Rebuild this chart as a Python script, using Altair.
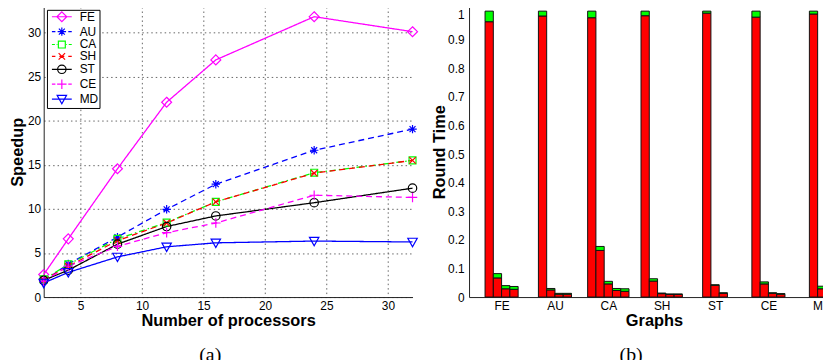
import json
import altair as alt
import pandas as pd

# ---------------- Left panel: speedup vs number of processors ----------------
procs = [2, 4, 8, 12, 16, 24, 32]
graphs = ["FE", "AU", "CA", "SH", "ST", "CE", "MD"]

speedup_fe = [2.55, 6.6, 14.55, 22.1, 26.9, 31.8, 30.1]
speedup_au = [1.8, 3.75, 6.8, 9.95, 12.8, 16.65, 19.05]
speedup_ca = [2.0, 3.7, 6.6, 8.45, 10.8, 14.1, 15.5]
speedup_sh = [1.9, 3.5, 6.4, 8.4, 10.8, 14.05, 15.5]
speedup_st = [1.9, 3.05, 6.0, 8.0, 9.2, 10.7, 12.35]
speedup_ce = [1.8, 3.5, 5.75, 7.3, 8.4, 11.55, 11.3]
speedup_md = [1.6, 2.8, 4.55, 5.7, 6.15, 6.35, 6.25]
speedups = [speedup_fe, speedup_au, speedup_ca, speedup_sh, speedup_st, speedup_ce, speedup_md]

x_ticks_left = [5, 10, 15, 20, 25, 30]
y_ticks_left = [0, 5, 10, 15, 20, 25, 30]

# ---------------- Right panel: round time per graph ----------------
# red = computation part, total = top of green part
round_red = [
    [0.963, 0.067, 0.029, 0.027],
    [0.983, 0.025, 0.010, 0.010],
    [0.977, 0.163, 0.046, 0.023, 0.020],
    [0.984, 0.056, 0.012, 0.009, 0.009],
    [0.993, 0.041, 0.013],
    [0.979, 0.046, 0.013, 0.010],
    [0.990, 0.029, 0.014],
]
round_total = [
    [1.0, 0.082, 0.040, 0.037],
    [1.0, 0.030, 0.013, 0.013],
    [1.0, 0.177, 0.055, 0.030, 0.029],
    [1.0, 0.064, 0.014, 0.011, 0.011],
    [1.0, 0.043, 0.015],
    [1.0, 0.053, 0.015, 0.012],
    [1.0, 0.038, 0.016],
]
y_ticks_right = [0, 0.1, 0.2, 0.3, 0.4, 0.5, 0.6, 0.7, 0.8, 0.9, 1]

# ---------------- styles ----------------
colors = ["#ff00ff", "#0000ff", "#00ff00", "#ff0000", "#000000", "#ff00ff", "#0000ff"]
dashes = [[1, 0], [6, 4], [6, 3, 1.5, 3], [6, 4], [1, 0], [6, 4], [1, 0]]
marker_paths = [
    "M0,-1L1,0L0,1L-1,0Z",
    "M-0.85,0L0.85,0M0,-0.85L0,0.85M-0.6,-0.6L0.6,0.6M-0.6,0.6L0.6,-0.6",
    "M-0.7,-0.7L0.7,-0.7L0.7,0.7L-0.7,0.7Z",
    "M-0.65,-0.65L0.65,0.65M-0.65,0.65L0.65,-0.65",
    "M0.85,0A0.85,0.85,0,1,1,-0.85,0A0.85,0.85,0,1,1,0.85,0Z",
    "M-0.95,0L0.95,0M0,-0.95L0,0.95",
    "M-0.95,-0.75L0.95,-0.75L0,0.95Z",
]
solid_seg = "M-2,0L2,0"
dash_seg = "M-2,0L-1.3,0M-0.5,0L0.5,0M1.3,0L2,0"
dashdot_seg = "M-2,0L-1.4,0M-1.05,0L-0.9,0M0.9,0L1.05,0M1.4,0L2,0"
legend_segs = [solid_seg, dash_seg, dashdot_seg, dash_seg, solid_seg, dash_seg, solid_seg]
legend_paths = [s + m for s, m in zip(legend_segs, marker_paths)]

FONT = "Liberation Sans"

rows = []
for name, vals in zip(graphs, speedups):
    for p, v in zip(procs, vals):
        rows.append({"series": name, "lg": name, "procs": p, "speedup": v})
df_left = pd.DataFrame(rows)

x_left = alt.X(
    "procs:Q",
    scale=alt.Scale(domain=[2, 32], nice=False, zero=False),
    axis=alt.Axis(values=x_ticks_left, title="Number of processors", grid=True,
                  labelPadding=4, titlePadding=1),
)
y_left = alt.Y(
    "speedup:Q",
    scale=alt.Scale(domain=[0, 32.95], nice=False),
    axis=alt.Axis(values=y_ticks_left, title="Speedup", grid=True,
                  labelPadding=3, titlePadding=2),
)

base = alt.Chart(df_left).encode(x=x_left, y=y_left)

lines = base.mark_line(strokeWidth=1.3).encode(
    color=alt.Color("series:N", scale=alt.Scale(domain=graphs, range=colors), legend=None),
    strokeDash=alt.StrokeDash("series:N", scale=alt.Scale(domain=graphs, range=dashes), legend=None),
)
points = base.mark_point(filled=False, size=100, strokeWidth=1.2, opacity=1).encode(
    color=alt.Color("series:N", scale=alt.Scale(domain=graphs, range=colors), legend=None),
    shape=alt.Shape("series:N", scale=alt.Scale(domain=graphs, range=marker_paths), legend=None),
)

leg = dict(
    title=None, orient="none", legendX=3.3, legendY=3.3, padding=1,
    labelFont=FONT, labelFontSize=12, labelColor="black",
    symbolSize=100, symbolStrokeWidth=1.2, symbolOpacity=1,
    symbolOffset=8, labelOffset=12,
    strokeColor="black", fillColor="white", rowPadding=0,
    labelExpr="datum.label + '  '",
)
legend_layer = base.mark_point(filled=False, opacity=0).encode(
    color=alt.Color("lg:N", scale=alt.Scale(domain=graphs, range=colors), legend=alt.Legend(**leg)),
    shape=alt.Shape("lg:N", scale=alt.Scale(domain=graphs, range=legend_paths), legend=alt.Legend(**leg)),
)

left = alt.layer(lines, points, legend_layer).resolve_scale(
    color="independent", shape="independent"
).properties(
    width=372, height=293,
    title=alt.TitleParams("(a)", orient="bottom", font="Liberation Serif", fontSize=20,
                          fontWeight="normal", color="black", dx=-18, offset=16),
)

# ---------------- right panel ----------------
pitch = 0.155
half_w = 0.0775
brows = []
for gi, (name, reds, tots) in enumerate(zip(graphs, round_red, round_total)):
    n = len(reds)
    for bi, (r, t) in enumerate(zip(reds, tots)):
        c = gi + 1 + (bi - (n - 1) / 2) * pitch
        brows.append({"graph": name, "x1": c - half_w, "x2": c + half_w,
                      "zero": 0.0, "red": r, "total": t})
df_right = pd.DataFrame(brows)

label_expr = json.dumps(graphs) + "[datum.value - 1]"
x_right = alt.X(
    "x1:Q",
    scale=alt.Scale(domain=[0.39, 7.32], nice=False, zero=False),
    axis=alt.Axis(values=list(range(1, len(graphs) + 1)), labelExpr=label_expr,
                  title="Graphs", grid=False, labelPadding=4, titlePadding=1),
)
y_scale_right = alt.Scale(domain=[0, 1.016], nice=False)
y_axis_right = alt.Axis(
    values=y_ticks_right, format="~g", title="Round Time", grid=False,
    labelPadding=5, titlePadding=0, labelOverlap=False,
    labelOffset={"condition": {"test": "datum.value === 1", "value": 3}, "value": 0},
)

rbase = alt.Chart(df_right)
red_bars = rbase.mark_rect(fill="#ff0000", stroke="#111111", strokeWidth=1).encode(
    x=x_right, x2="x2:Q",
    y=alt.Y("zero:Q", scale=y_scale_right, axis=y_axis_right), y2="red:Q",
)
green_bars = rbase.mark_rect(fill="#00ff00", stroke="#111111", strokeWidth=1).encode(
    x=x_right, x2="x2:Q",
    y=alt.Y("red:Q", scale=y_scale_right, axis=y_axis_right), y2="total:Q",
)

right = alt.layer(red_bars, green_bars).properties(
    width=373, height=293,
    title=alt.TitleParams("(b)", orient="bottom", font="Liberation Serif", fontSize=20,
                          fontWeight="normal", color="black", dx=-23, offset=16),
)

chart = alt.hconcat(left, right, spacing=57, bounds="flush").properties(
    padding={"left": 1, "top": -3, "right": -16, "bottom": 0}
).configure_view(stroke=None).configure_axis(
    labelFont=FONT, labelFontSize=12, labelColor="black",
    titleFont=FONT, titleFontSize=16.5, titleFontWeight="bold", titleColor="black",
    domainColor="#222222", domainWidth=1, ticks=False,
    gridColor="#666666", gridDash=[1.5, 3], gridWidth=1,
)

chart.save("out.html", embed_options={"renderer": "svg", "actions": False})
